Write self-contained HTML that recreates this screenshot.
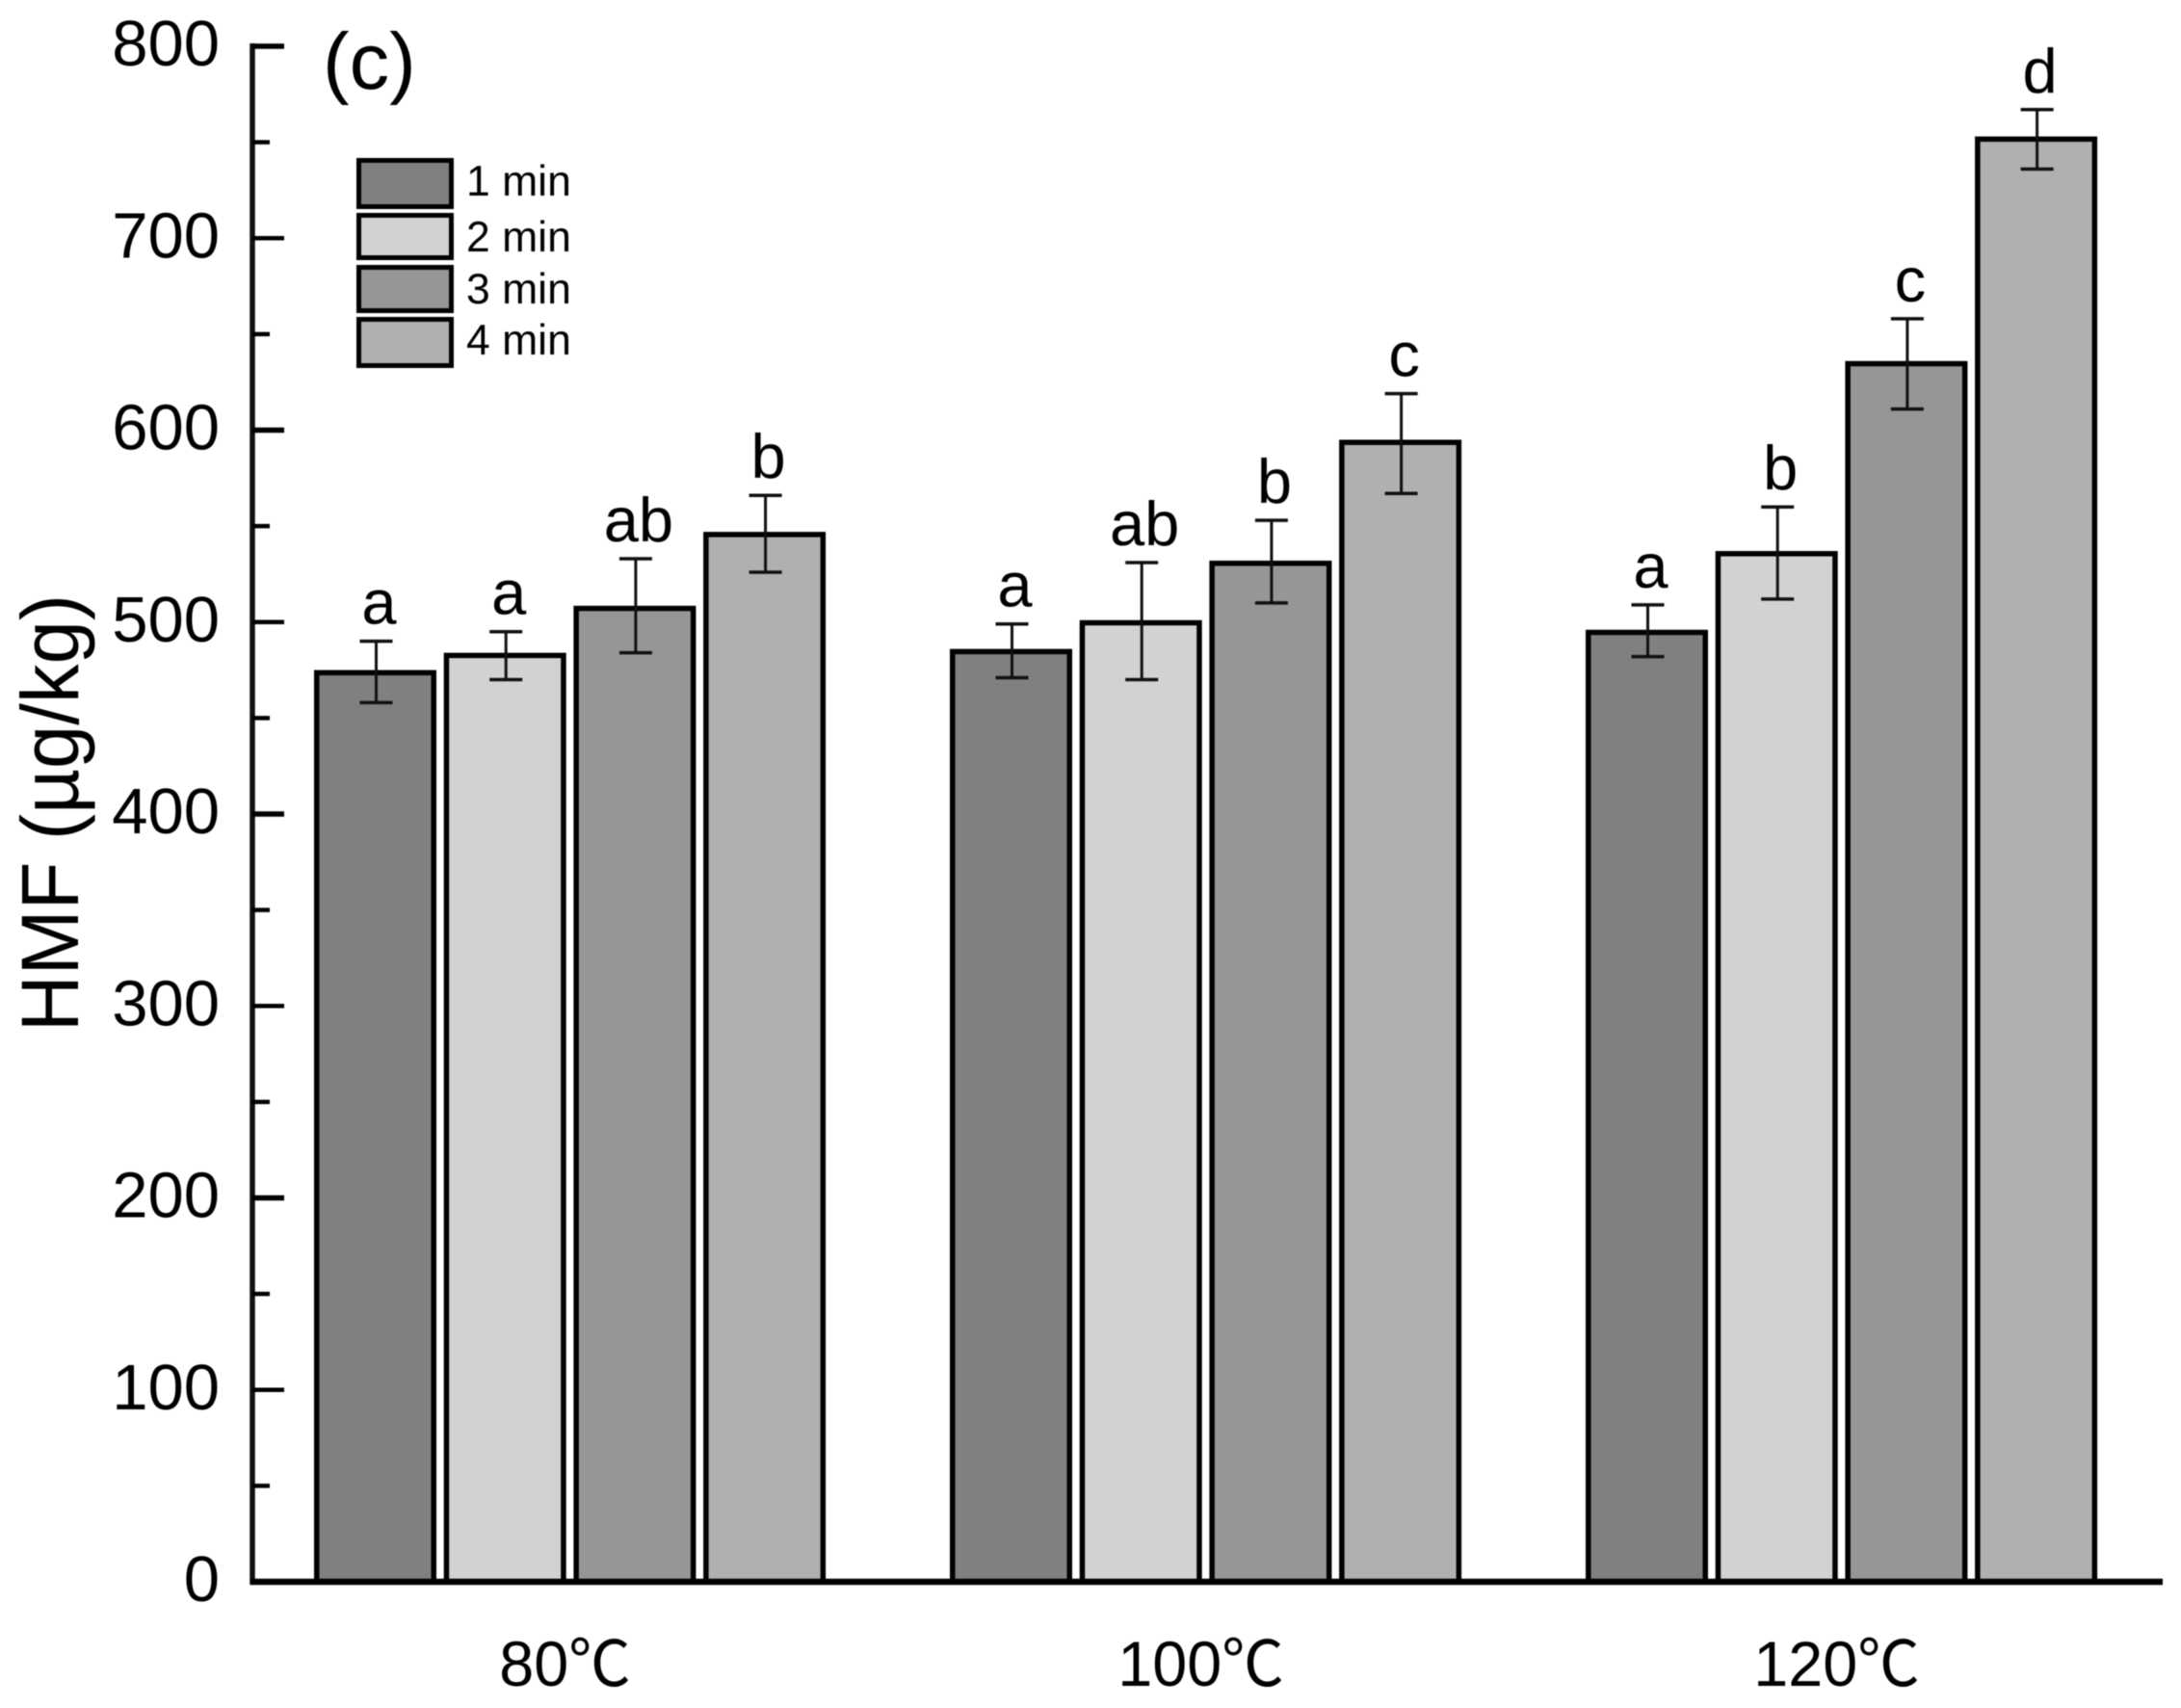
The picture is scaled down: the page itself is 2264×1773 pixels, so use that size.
<!DOCTYPE html>
<html lang="en">
<head>
<meta charset="utf-8">
<title>HMF bar chart (c)</title>
<style>
html,body{margin:0;padding:0;background:#fff;width:2264px;height:1773px;overflow:hidden}
svg{display:block;filter:blur(.5px)}
text{font-family:"Liberation Sans","Noto Sans CJK SC",sans-serif;fill:#000}
</style>
</head>
<body>
<svg id="chart" xmlns="http://www.w3.org/2000/svg" width="2264" height="1773" viewBox="0 0 2264 1773">
<rect x="0" y="0" width="2264" height="1773" fill="#fff"/>
</svg>
<script>
const categories = ['80℃', '100℃', '120℃'];
const seriesNames = ['1 min', '2 min', '3 min', '4 min'];
const seriesColors = ['#808080', '#d2d2d2', '#969696', '#b0b0b0'];
const values1min = [475, 486, 496];
const values2min = [484, 501, 537];
const values3min = [508.5, 532, 636];
const values4min = [547, 595, 753];
const upper1min = [490, 499, 509];
const upper2min = [495, 531, 560];
const upper3min = [533, 553, 658];
const upper4min = [566, 619, 767];
const lower1min = [458, 471, 482];
const lower2min = [470, 470, 512];
const lower3min = [484, 510, 611];
const lower4min = [526, 567, 736];
const letters1min = ['a', 'a', 'a'];
const letters2min = ['a', 'ab', 'b'];
const letters3min = ['ab', 'b', 'c'];
const letters4min = ['b', 'c', 'd'];
const yTickLabels = [0, 100, 200, 300, 400, 500, 600, 700, 800];
const yMinorTicks = [50, 150, 250, 350, 450, 550, 650, 750];

const seriesValues = [values1min, values2min, values3min, values4min];
const seriesUpper = [upper1min, upper2min, upper3min, upper4min];
const seriesLower = [lower1min, lower2min, lower3min, lower4min];
const seriesLetters = [letters1min, letters2min, letters3min, letters4min];

const svg = document.getElementById('chart');
const NS = 'http://www.w3.org/2000/svg';
const Y0 = 1642, YTOP = 48, YMAX = 800;
const AXIS_X = 262, AXIS_END = 2245;
const GROUP_START = 326, GROUP_STEP = 660, BAR_STEP = 134.7, BAR_W = 127, STROKE = 5.5;

function yScale(v) { return Y0 - (v / YMAX) * (Y0 - YTOP); }
function barLeft(g, s) { return GROUP_START + g * GROUP_STEP + s * BAR_STEP; }
function barCenter(g, s) { return barLeft(g, s) + BAR_W / 2; }
function groupCenter(g) { return (barLeft(g, 0) + barLeft(g, 3) + BAR_W) / 2; }

function make(tag, attrs, text) {
  const el = document.createElementNS(NS, tag);
  for (const k in attrs) el.setAttribute(k, attrs[k]);
  if (text !== undefined) el.textContent = text;
  svg.appendChild(el);
  return el;
}

// bars
seriesValues.forEach(function (vals, s) {
  vals.forEach(function (v, g) {
    const top = yScale(v);
    const bar = make('rect', {
      x: barLeft(g, s) + STROKE / 2, y: top + STROKE / 2,
      width: BAR_W - STROKE, height: Y0 - top - STROKE / 2,
      fill: seriesColors[s], stroke: '#000', 'stroke-width': STROKE
    });
    
    
  });
});

// error bars and significance letters
seriesValues.forEach(function (vals, s) {
  vals.forEach(function (v, g) {
    const cx = barCenter(g, s) + 1;
    const yU = yScale(seriesUpper[s][g]);
    const yL = yScale(seriesLower[s][g]);
    const stem = make('line', { x1: cx, x2: cx, y1: yU, y2: yL, stroke: '#111', 'stroke-width': 3 });
    
    
    const capTop = make('line', { x1: cx - 17, x2: cx + 17, y1: yU, y2: yU, stroke: '#111', 'stroke-width': 3.5 });
    
    
    const capLow = make('line', { x1: cx - 17, x2: cx + 17, y1: yL, y2: yL, stroke: '#111', 'stroke-width': 3.5 });
    
    
    const letter = make('text', { x: cx + 3, y: yU - 18, 'text-anchor': 'middle', 'font-size': 65 }, seriesLetters[s][g]);
    
    
  });
});

// axes
const yAxis = make('line', { x1: AXIS_X, x2: AXIS_X, y1: YTOP - 3, y2: Y0 + 3, stroke: '#111', 'stroke-width': 5.5 });


const xAxis = make('line', { x1: AXIS_X - 2, x2: AXIS_END, y1: Y0, y2: Y0, stroke: '#000', 'stroke-width': 6.5 });



yTickLabels.forEach(function (v) {
  const y = yScale(v);
  if (v > 0) {
    const tick = make('line', { x1: AXIS_X, x2: AXIS_X + 33, y1: y, y2: y, stroke: '#000', 'stroke-width': v % 200 === 0 ? 5.5 : 4.5 });
    
    
  }
  const label = make('text', { x: 228, y: y + 20, 'text-anchor': 'end', 'font-size': 67 }, String(v));
  
  
});
yMinorTicks.forEach(function (v) {
  const y = yScale(v);
  const tick = make('line', { x1: AXIS_X, x2: AXIS_X + 18, y1: y, y2: y, stroke: '#000', 'stroke-width': 4.5 });
  
  
});

// category labels
categories.forEach(function (c, g) {
  const label = make('text', {
    transform: 'translate(' + (groupCenter(g) - 5) + ',1750) scale(0.98,1)',
    'text-anchor': 'middle', 'font-size': 66
  }, c);
  
  
});

// y title
const yTitle = make('text', {
  transform: 'translate(81,844) rotate(-90)', 'text-anchor': 'middle',
  'font-size': 84, textLength: 454, lengthAdjust: 'spacingAndGlyphs'
}, 'HMF (µg/kg)');



// panel label
const panel = make('text', { x: 335, y: 92, 'font-size': 83 }, '(c)');



// legend
const legendTops = [164, 221, 275, 329];
const legendHeights = [53, 49, 50, 53];
const legendBase = [203, 261, 315, 368];
seriesNames.forEach(function (name, s) {
  const swatch = make('rect', {
    x: 372.5, y: legendTops[s] + 2.5, width: 96, height: legendHeights[s] - 5,
    fill: seriesColors[s], stroke: '#000', 'stroke-width': 5
  });
  
  
  const label = make('text', { x: 484, y: legendBase[s], 'font-size': 44.5 }, name);
  
  
});
</script>
</body>
</html>
